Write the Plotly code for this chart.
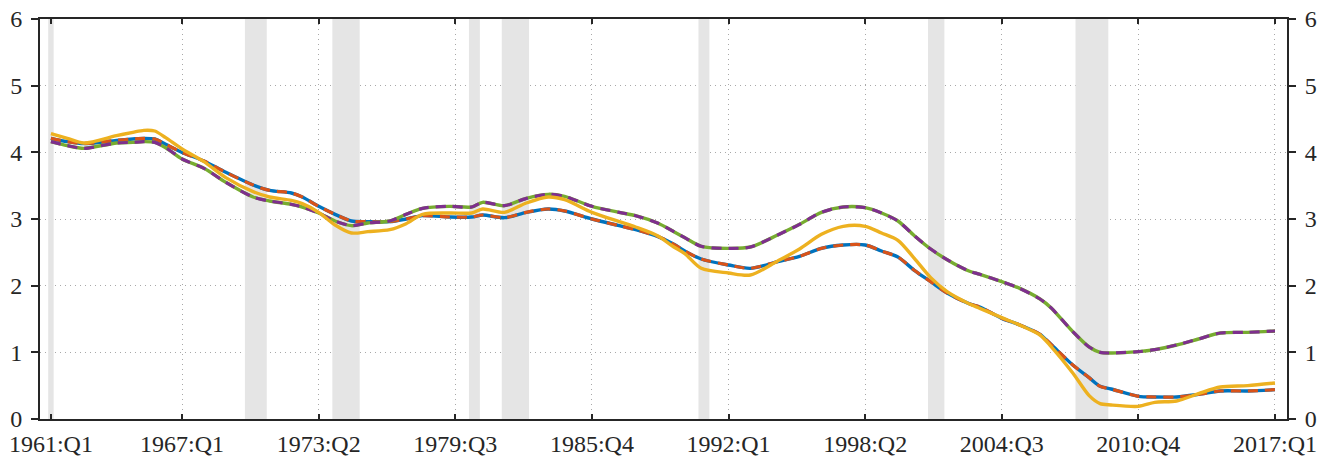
import plotly.graph_objects as go

# ---------------- data ----------------
tick_labels = ["1961:Q1", "1967:Q1", "1973:Q2", "1979:Q3", "1985:Q4",
               "1992:Q1", "1998:Q2", "2004:Q3", "2010:Q4", "2017:Q1"]

# sample points, expressed as quarters since 1961:Q1
quarter_idx = [0, 3, 6, 12, 15, 17, 19, 21, 24, 28, 32, 37, 40, 44, 46, 49, 52, 55, 58,
               62, 65, 68, 73, 77, 79, 83, 87, 91, 94, 99, 104, 107, 111, 114, 116, 119,
               124, 128, 133, 137, 141, 145, 149, 152, 155, 158, 161, 164, 168, 170, 174,
               177, 181, 183, 187, 190, 192, 194, 199, 202, 206, 210, 214, 219, 224]

series_blue = [4.21, 4.16, 4.13, 4.18, 4.20, 4.21, 4.20, 4.12, 4.00, 3.87, 3.70, 3.51, 3.43,
               3.39, 3.33, 3.19, 3.07, 2.97, 2.96, 2.96, 3.00, 3.05, 3.03, 3.03, 3.06, 3.02,
               3.10, 3.15, 3.12, 3.00, 2.90, 2.84, 2.74, 2.62, 2.52, 2.40, 2.31, 2.26, 2.36,
               2.44, 2.56, 2.61, 2.61, 2.52, 2.43, 2.23, 2.06, 1.89, 1.73, 1.68, 1.51, 1.42,
               1.27, 1.12, 0.81, 0.62, 0.49, 0.45, 0.34, 0.33, 0.33, 0.37, 0.42, 0.42, 0.44]

series_red = list(series_blue)

series_green = [4.16, 4.10, 4.06, 4.14, 4.15, 4.16, 4.15, 4.07, 3.90, 3.76, 3.55, 3.33, 3.27,
                3.22, 3.18, 3.09, 2.97, 2.90, 2.94, 2.97, 3.07, 3.16, 3.19, 3.18, 3.25, 3.20,
                3.31, 3.37, 3.34, 3.19, 3.10, 3.05, 2.94, 2.81, 2.72, 2.59, 2.56, 2.58, 2.76,
                2.92, 3.10, 3.18, 3.17, 3.09, 2.97, 2.75, 2.55, 2.39, 2.22, 2.17, 2.06, 1.97,
                1.80, 1.67, 1.31, 1.08, 1.00, 0.99, 1.01, 1.04, 1.11, 1.20, 1.29, 1.30, 1.32]

series_purple = list(series_green)

series_yellow = [4.28, 4.21, 4.14, 4.25, 4.30, 4.33, 4.32, 4.22, 4.05, 3.86, 3.62, 3.41, 3.33,
                 3.28, 3.23, 3.10, 2.91, 2.79, 2.81, 2.84, 2.93, 3.07, 3.09, 3.09, 3.15, 3.10,
                 3.24, 3.33, 3.29, 3.10, 2.96, 2.88, 2.75, 2.58, 2.48, 2.26, 2.19, 2.16, 2.37,
                 2.55, 2.77, 2.89, 2.89, 2.79, 2.68, 2.41, 2.12, 1.91, 1.73, 1.66, 1.52, 1.42,
                 1.26, 1.09, 0.69, 0.35, 0.23, 0.21, 0.19, 0.25, 0.27, 0.38, 0.48, 0.50, 0.54]

recessions = [("1960:Q4", "1961:Q1"), ("1969:Q4", "1970:Q4"), ("1973:Q4", "1975:Q1"),
              ("1980:Q1", "1980:Q3"), ("1981:Q3", "1982:Q4"), ("1990:Q3", "1991:Q1"),
              ("2001:Q1", "2001:Q4"), ("2007:Q4", "2009:Q2")]

y_ticks = [0, 1, 2, 3, 4, 5, 6]


def q_index(label):
    year, q = label.split(":Q")
    return (int(year) - 1961) * 4 + int(q) - 1


# ---------------- style ----------------
FONT = "Times New Roman, Liberation Serif, serif"
INK = "#262626"
GRID = "#A8A8A8"
C_BLUE, C_RED, C_YELLOW, C_PURPLE, C_GREEN = "#0072BD", "#D95319", "#EDB120", "#7E2F8E", "#77AC30"

fig = go.Figure()

def add_line(y, color, width, dash=None):
    fig.add_trace(go.Scatter(
        x=quarter_idx, y=y, mode="lines",
        line=dict(color=color, width=width, dash=dash, shape="spline", smoothing=0.8),
        hoverinfo="skip", showlegend=False))

add_line(series_blue, C_BLUE, 3.4)
add_line(series_red, C_RED, 3.2, "10px,7px")
add_line(series_green, C_GREEN, 3.4)
add_line(series_purple, C_PURPLE, 3.2, "10px,7px")
add_line(series_yellow, C_YELLOW, 3.4)

# invisible trace to activate the right-hand axis
fig.add_trace(go.Scatter(x=[quarter_idx[0]], y=[series_blue[0]], yaxis="y2", mode="markers",
                         marker=dict(opacity=0), hoverinfo="skip", showlegend=False))

# shading spans from the middle of the first recession quarter's step to the end quarter's step
for a, b in recessions:
    fig.add_shape(type="rect", xref="x", yref="y", x0=q_index(a) + 0.5, x1=q_index(b) + 0.5,
                  y0=0, y1=6, fillcolor="#E5E5E5", line=dict(width=0), layer="between")

tick_vals = [q_index(s) for s in tick_labels]

fig.update_layout(
    width=1332, height=464,
    margin=dict(l=40, r=45, t=19, b=45, autoexpand=False),
    paper_bgcolor="white", plot_bgcolor="white",
    font=dict(family=FONT, size=24, color=INK),
    showlegend=False,
    xaxis=dict(range=[-2, 226.2], tickmode="array", tickvals=tick_vals, ticktext=tick_labels,
               ticks="inside", ticklen=5, tickwidth=2, tickcolor=INK,
               showline=True, linecolor=INK, linewidth=2, mirror="ticks",
               showgrid=True, gridcolor=GRID, griddash="1px,4px", gridwidth=1,
               zeroline=False, automargin=False, ticklabelstandoff=2),
    yaxis=dict(range=[0, 6], tickmode="array", tickvals=y_ticks,
               ticks="outside", ticklen=7, tickwidth=2, tickcolor=INK,
               showline=True, linecolor=INK, linewidth=2,
               showgrid=True, gridcolor=GRID, griddash="1px,4px", gridwidth=1,
               zeroline=False, automargin=False, ticklabelstandoff=4),
    yaxis2=dict(range=[0, 6], tickmode="array", tickvals=y_ticks, overlaying="y", side="right",
                anchor="x", ticks="outside", ticklen=7, tickwidth=2, tickcolor=INK,
                showline=True, linecolor=INK, linewidth=2, showgrid=False, zeroline=False,
                automargin=False, ticklabelstandoff=4),
)

fig.write_html("out.html", config={"displayModeBar": False, "staticPlot": True},
               post_script="document.body.style.margin='0';document.body.style.overflow='hidden';")
